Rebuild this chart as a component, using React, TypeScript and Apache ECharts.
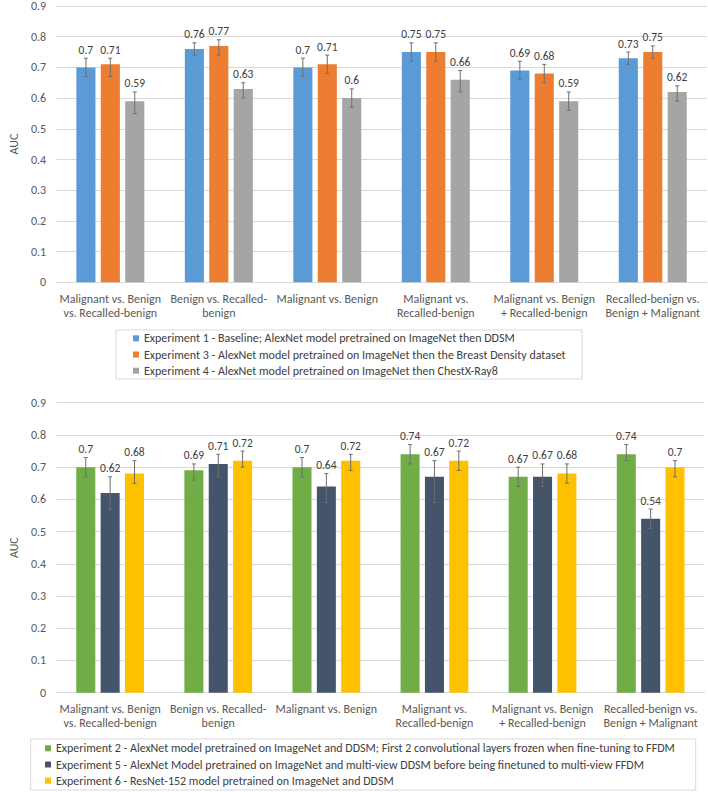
import React, { useEffect, useRef } from "react";
import * as echarts from "echarts";

const categories = [
  "Malignant vs. Benign\nvs. Recalled-benign",
  "Benign vs. Recalled-\nbenign",
  "Malignant vs. Benign",
  "Malignant vs.\nRecalled-benign",
  "Malignant vs. Benign\n+ Recalled-benign",
  "Recalled-benign vs.\nBenign + Malignant",
];
const yTicks = [0, 0.1, 0.2, 0.3, 0.4, 0.5, 0.6, 0.7, 0.8, 0.9];

const topNames = [
  "Experiment 1 - Baseline; AlexNet model pretrained on ImageNet then DDSM",
  "Experiment 3 - AlexNet model pretrained on ImageNet then the Breast Density dataset",
  "Experiment 4 - AlexNet model pretrained on ImageNet then ChestX-Ray8",
];
const exp1 = [0.7, 0.76, 0.7, 0.75, 0.69, 0.73];
const exp1Low = [0.67, 0.74, 0.67, 0.72, 0.66, 0.71];
const exp1High = [0.73, 0.78, 0.73, 0.78, 0.72, 0.75];
const exp3 = [0.71, 0.77, 0.71, 0.75, 0.68, 0.75];
const exp3Low = [0.67, 0.74, 0.68, 0.72, 0.65, 0.73];
const exp3High = [0.73, 0.79, 0.74, 0.78, 0.71, 0.77];
const exp4 = [0.59, 0.63, 0.6, 0.66, 0.59, 0.62];
const exp4Low = [0.55, 0.6, 0.57, 0.62, 0.56, 0.59];
const exp4High = [0.62, 0.65, 0.63, 0.69, 0.62, 0.64];

const bottomNames = [
  "Experiment 2 - AlexNet model pretrained on ImageNet and DDSM; First 2 convolutional layers frozen when fine-tuning to FFDM",
  "Experiment 5 - AlexNet Model pretrained on ImageNet and multi-view DDSM before being finetuned to multi-view FFDM",
  "Experiment 6 - ResNet-152 model pretrained on ImageNet and DDSM",
];
const exp2 = [0.7, 0.69, 0.7, 0.74, 0.67, 0.74];
const exp2Low = [0.67, 0.66, 0.67, 0.71, 0.64, 0.72];
const exp2High = [0.73, 0.71, 0.73, 0.77, 0.7, 0.77];
const exp5 = [0.62, 0.71, 0.64, 0.67, 0.67, 0.54];
const exp5Low = [0.57, 0.67, 0.59, 0.59, 0.64, 0.51];
const exp5High = [0.67, 0.74, 0.68, 0.72, 0.71, 0.57];
const exp6 = [0.68, 0.72, 0.72, 0.72, 0.68, 0.7];
const exp6Low = [0.65, 0.7, 0.69, 0.69, 0.65, 0.67];
const exp6High = [0.72, 0.75, 0.74, 0.75, 0.71, 0.72];

const topColors = ["#5b9bd5", "#ed7d31", "#a5a5a5"];
const bottomColors = ["#70ad47", "#44546a", "#ffc000"];

const FONT = "Carlito, 'Liberation Sans Narrow', Lato, sans-serif";
const TEXT = "#595959";
const BAR_W = 0.176;
const BAR_GAP = 0.28;

function buildPanel(
  gi: number,
  names: string[],
  colors: string[],
  vals: number[][],
  lows: number[][],
  highs: number[][]
) {
  const series: any[] = [];
  names.forEach((n, i) => {
    series.push({
      type: "bar",
      name: n,
      xAxisIndex: gi,
      yAxisIndex: gi,
      data: vals[i],
      barWidth: BAR_W * 100 + "%",
      barGap: BAR_GAP * 100 + "%",
      itemStyle: { color: colors[i] },
    });
  });
  names.forEach((n, i) => {
    series.push({
      type: "custom",
      name: "err-" + gi + "-" + i,
      xAxisIndex: gi,
      yAxisIndex: gi,
      z: 5,
      data: vals[i].map((v, k) => [k, v, lows[i][k], highs[i][k]]),
      encode: { x: 0, y: 1 },
      renderItem: (params: any, api: any) => {
        const k = api.value(0);
        const v = api.value(1);
        const lo = api.value(2);
        const hi = api.value(3);
        const catW = api.size([1, 0])[0];
        const bw = catW * BAR_W;
        const off = (i - 1) * bw * (1 + BAR_GAP);
        const c = api.coord([k, v]);
        const x = c[0] + off;
        const yLo = api.coord([k, lo])[1];
        const yHi = api.coord([k, hi])[1];
        const stroke = { stroke: "#6f6f6f", lineWidth: 1 };
        return {
          type: "group",
          children: [
            { type: "line", shape: { x1: x, y1: yLo, x2: x, y2: yHi }, style: stroke },
            { type: "line", shape: { x1: x - 2, y1: yLo, x2: x + 2, y2: yLo }, style: stroke },
            { type: "line", shape: { x1: x - 2, y1: yHi, x2: x + 2, y2: yHi }, style: stroke },
            {
              type: "text",
              style: {
                text: String(v),
                x: x,
                y: yHi - 8.5,
                align: "center",
                verticalAlign: "middle",
                fill: "#404040",
                fontSize: 11.5,
                fontFamily: FONT,
              },
            },
          ],
        };
      },
    });
  });
  return series;
}

export default function App() {
  const ref = useRef<HTMLDivElement>(null);
  useEffect(() => {
    if (!ref.current) return;
    const chart = echarts.init(ref.current, null, { renderer: "svg" });
    const grids = [
      { left: 41.5, width: 665.5, top: 4, height: 278.3 },
      { left: 42.8, width: 661.9, top: 402.7, height: 290 },
    ];
    const xAxis = grids.map((_, gi) => ({
      type: "category",
      gridIndex: gi,
      data: categories,
      axisTick: { show: false },
      axisLine: { lineStyle: { color: "#d9d9d9" } },
      axisLabel: {
        interval: 0,
        color: TEXT,
        fontSize: 12,
        lineHeight: 14.5,
        fontFamily: FONT,
        margin: 9,
      },
    }));
    const yAxis = grids.map((_, gi) => ({
      type: "value",
      gridIndex: gi,
      min: 0,
      max: 0.9,
      interval: 0.1,
      name: "AUC",
      nameLocation: "middle",
      nameGap: 35,
      nameRotate: 90,
      nameTextStyle: { color: TEXT, fontSize: 12, fontFamily: FONT },
      axisLine: { show: false },
      axisTick: { show: false },
      splitLine: { lineStyle: { color: "#d9d9d9" } },
      axisLabel: {
        color: TEXT,
        fontSize: 12,
        fontFamily: FONT,
        margin: 10,
        formatter: (v: number) => String(yTicks.find((t) => Math.abs(t - v) < 1e-6) ?? +v.toFixed(1)),
      },
    }));
    const series = [
      ...buildPanel(0, topNames, topColors, [exp1, exp3, exp4], [exp1Low, exp3Low, exp4Low], [exp1High, exp3High, exp4High]),
      ...buildPanel(1, bottomNames, bottomColors, [exp2, exp5, exp6], [exp2Low, exp5Low, exp6Low], [exp2High, exp5High, exp6High]),
    ];
    const legendCommon = {
      orient: "vertical",
      icon: "rect",
      itemWidth: 6,
      itemHeight: 6,
      itemGap: 0,
      padding: 0,
      selectedMode: false,
      textStyle: { color: "#404040", fontSize: 12, lineHeight: 16.2, fontFamily: FONT },
    };
    chart.setOption({
      animation: false,
      backgroundColor: "#ffffff",
      grid: grids,
      xAxis,
      yAxis,
      legend: [
        { ...legendCommon, data: topNames, left: 133, top: 330.2 },
        { ...legendCommon, data: bottomNames, left: 45, top: 740.2 },
      ],
      graphic: [
        { type: "rect", shape: { x: 116, y: 330, width: 466, height: 49 }, style: { fill: "none", stroke: "#d9d9d9", lineWidth: 1 }, z: -1 },
        { type: "rect", shape: { x: 30.7, y: 739, width: 665, height: 51 }, style: { fill: "none", stroke: "#d9d9d9", lineWidth: 1 }, z: -1 },
      ],
      series,
    });
    return () => chart.dispose();
  }, []);
  return (
    <div>
      <div ref={ref} style={{ position: "fixed", left: 0, top: 0, width: 708, height: 792 }} />
    </div>
  );
}
